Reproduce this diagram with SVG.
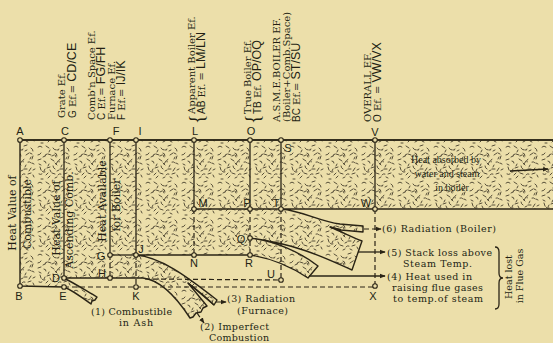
<svg xmlns="http://www.w3.org/2000/svg" width="553" height="343" viewBox="0 0 553 343">
<defs>
<pattern id="st" width="36" height="36" patternUnits="userSpaceOnUse">
<path d="M2,3q2,-2 4,0 M10,2l3,2 M17,4q1,2 3,2 M24,2l3,-1 M31,4q2,1 2,3 M5,9q-1,2 -3,2 M12,10l3,1 M19,9q2,0 2,3 M26,11l3,-2 M33,12l-1,3 M2,16l3,-1 M8,17q2,0 2,2 M15,15l3,2 M22,17l-2,3 M28,18q2,-1 3,1 M4,23l1,3 M11,24l3,-1 M17,22q0,2 2,3 M24,25l3,0 M31,24l-2,3 M3,30q2,1 3,0 M10,31l2,-2 M16,29l3,1 M22,31q1,-2 3,-1 M28,30l3,-1 M7,13l2,-1 M20,13l-1,-2 M13,20l-1,2 M27,6l-2,1 M8,27l1,-2 M34,20l-2,-1 M19,34l2,-1 M34,33l-1,-2 M5,35l2,0 M14,6l-1,2 M21,6q2,1 2,-1 M30,9l2,1 M9,12q0,-2 2,-2 M16,12l2,-1 M24,15q-2,1 -1,3 M3,20l2,1 M19,19l2,2 M26,21l-1,2 M33,26l2,-1 M6,27q1,2 3,1 M14,26l1,2 M21,27l2,-1 M26,33l2,1 M12,34l2,-2 M30,15l1,-2" stroke="#3b3423" stroke-width="0.85" fill="none" stroke-linecap="round"/>
</pattern>
<marker id="ah" viewBox="0 0 8 8" refX="7" refY="4" markerWidth="6" markerHeight="6" orient="auto" markerUnits="userSpaceOnUse">
<path d="M0,1 L8,4 L0,7 z" fill="#2a2416"/>
</marker>
</defs>
<style>
.ln{stroke:#2a2416;stroke-width:1.6;fill:none}
.th{stroke:#2a2416;stroke-width:1.3;fill:none}
.ds{stroke:#2a2416;stroke-width:1.2;fill:none;stroke-dasharray:5 3}
.pt{fill:#ecdfaa;stroke:#2a2416;stroke-width:1.1}
.sr{font-family:"DejaVu Serif",serif;fill:#231f14}
.tr{font-family:"Liberation Serif",serif;fill:#231f14}
.ss{font-family:"Liberation Sans",sans-serif;fill:#231f14}
.lt{font-family:"Liberation Sans",sans-serif;fill:#231f14;font-size:11px;text-anchor:middle}
</style>
<rect width="553" height="343" fill="#ecdfaa"/>

<g id="flow">
<path id="body" d="M20,140 L556,140 L556,209 L281,209 C303,211 318,221 340,224 L363,226 L363,232 L341,230 L330,227 C342,232 352,237 362,241 L352,270 C325,258 300,245 250,238 C275,241 300,252 318,266 L308,278 C290,266 270,258 250,255 L136,255 C160,257 185,275 217,300 L214,305 C205,296 196,289 188,283 L207,306 L203,308 L201,312 L196,313 L193,317 L190,318 C175,295 160,280 143,278 L64,278 C72,282 85,290 97,297 L95,300 L92,301 L91,304 C80,296 72,290 64,287 L20,286 Z" fill="url(#st)" stroke="#2a2416" stroke-width="1.4" stroke-linejoin="round"/>
</g>

<g id="connectors">
<line class="ln" x1="20" y1="140" x2="553" y2="140"/>
<line class="th" x1="194" y1="209" x2="281" y2="209"/>
<line class="th" x1="110" y1="255" x2="136" y2="255"/>
<line class="th" x1="64" y1="140" x2="64" y2="278"/>
<line class="th" x1="110" y1="140" x2="110" y2="255"/>
<line class="th" x1="136" y1="140" x2="136" y2="255"/>
<line class="th" x1="194" y1="140" x2="194" y2="209"/>
<line class="th" x1="250" y1="140" x2="250" y2="209"/>
<line class="th" x1="281" y1="140" x2="281" y2="209"/>
<line class="th" x1="375" y1="140" x2="375" y2="209"/>
<line class="ds" x1="110" y1="255" x2="110" y2="278"/>
<line class="ds" x1="136" y1="255" x2="136" y2="287"/>
<line class="ds" x1="194" y1="209" x2="194" y2="255"/>
<line class="ds" x1="250" y1="209" x2="250" y2="255"/>
<line class="ds" x1="281" y1="209" x2="281" y2="280"/>
<line class="ds" x1="375" y1="209" x2="375" y2="286"/>
<line class="ds" x1="145" y1="279" x2="281" y2="280"/>
<line class="ds" x1="64" y1="287" x2="375" y2="287"/>
<path class="th" d="M188,283 L214,305"/>
<path class="th" d="M330,227 L341,230"/>
<line class="ds" x1="364" y1="229" x2="381" y2="229" marker-end="url(#ah)"/>
<line class="th" x1="358" y1="252" x2="385" y2="252" marker-end="url(#ah)"/>
<line class="th" x1="309" y1="276" x2="385" y2="276" marker-end="url(#ah)"/>
<line class="ds" x1="216" y1="302" x2="226" y2="302" stroke-dasharray="3 2" marker-end="url(#ah)"/>
<line class="ds" x1="197" y1="313" x2="204" y2="323" stroke-dasharray="2 2" marker-end="url(#ah)"/>
<line class="th" x1="510" y1="171" x2="548" y2="169" marker-end="url(#ah)"/>
<path class="th" d="M495,247 q4,0 4,5 v21 q0,5 4,5 q-4,0 -4,5 v21 q0,5 -4,5"/>
</g>

<g id="points">
<circle class="pt" cx="20" cy="140" r="2.3"/><circle class="pt" cx="64" cy="140" r="2.3"/>
<circle class="pt" cx="110" cy="140" r="2.3"/><circle class="pt" cx="136" cy="140" r="2.3"/>
<circle class="pt" cx="194" cy="140" r="2.3"/><circle class="pt" cx="250" cy="140" r="2.3"/>
<circle class="pt" cx="281" cy="140" r="2.3"/><circle class="pt" cx="375" cy="140" r="2.3"/>
<circle class="pt" cx="194" cy="209" r="2.3"/><circle class="pt" cx="250" cy="209" r="2.3"/>
<circle class="pt" cx="281" cy="209" r="2.3"/><circle class="pt" cx="375" cy="209" r="2.3"/>
<circle class="pt" cx="110" cy="255" r="2.3"/><circle class="pt" cx="136" cy="255" r="2.3"/>
<circle class="pt" cx="194" cy="255" r="2.3"/><circle class="pt" cx="250" cy="255" r="2.3"/>
<circle class="pt" cx="250" cy="238" r="2.3"/>
<circle class="pt" cx="64" cy="278" r="2.3"/><circle class="pt" cx="110" cy="278" r="2.3"/>
<circle class="pt" cx="281" cy="280" r="2.3"/>
<circle class="pt" cx="20" cy="286" r="2.3"/><circle class="pt" cx="64" cy="287" r="2.3"/>
<circle class="pt" cx="136" cy="287" r="2.3"/><circle class="pt" cx="375" cy="286" r="2.3"/>
</g>

<g id="letters">
<text class="lt" x="20" y="135">A</text><text class="lt" x="65" y="135">C</text>
<text class="lt" x="116" y="135">F</text><text class="lt" x="140" y="135">I</text>
<text class="lt" x="195" y="135">L</text><text class="lt" x="251" y="135">O</text>
<text class="lt" x="288" y="152">S</text><text class="lt" x="375" y="136">V</text>
<text class="lt" x="203" y="207">M</text><text class="lt" x="247" y="207">P</text>
<text class="lt" x="276" y="207">T</text><text class="lt" x="366" y="207">W</text>
<text class="lt" x="241" y="243">Q</text><text class="lt" x="194" y="267">N</text>
<text class="lt" x="249" y="267">R</text><text class="lt" x="271" y="278">U</text>
<text class="lt" x="101" y="260">G</text><text class="lt" x="141" y="253">J</text>
<text class="lt" x="102" y="277">H</text><text class="lt" x="56" y="282">D</text>
<text class="lt" x="19" y="300">B</text><text class="lt" x="63" y="300">E</text>
<text class="lt" x="136" y="300">K</text><text class="lt" x="373" y="300">X</text>
</g>

<g id="top-labels" class="sr" font-size="10">
<text transform="translate(65,118) rotate(-90)">Grate Ef.</text>
<text transform="translate(76,118) rotate(-90)"><tspan class="ss" font-size="10">G</tspan> Ef.= <tspan class="ss" font-size="12.5">CD/CE</tspan></text>
<text transform="translate(95,120) rotate(-90)">Comb'n Space Ef.</text>
<text transform="translate(105,120) rotate(-90)"><tspan class="ss" font-size="10">C</tspan> Ef.= <tspan class="ss" font-size="12.5">FG/FH</tspan></text>
<text transform="translate(115,120) rotate(-90)">Furnace Ef.</text>
<text transform="translate(125,120) rotate(-90)"><tspan class="ss" font-size="10">F</tspan> Ef.= <tspan class="ss" font-size="12.5">IJ/IK</tspan></text>
<text transform="translate(203,124) rotate(-90)" font-size="20" class="tr">{</text>
<text transform="translate(195,114) rotate(-90)">Apparent Boiler Ef.</text>
<text transform="translate(205,114) rotate(-90)"><tspan class="ss" font-size="10">AB</tspan> Ef. = <tspan class="ss" font-size="12.5">LM/LN</tspan></text>
<text transform="translate(259,124) rotate(-90)" font-size="20" class="tr">{</text>
<text transform="translate(251,114) rotate(-90)">True Boiler Ef.</text>
<text transform="translate(261,114) rotate(-90)"><tspan class="ss" font-size="10">TB</tspan> Ef. <tspan class="ss" font-size="12.5">OP/OQ</tspan></text>
<text transform="translate(280,122) rotate(-90)">A.S.M.E.BOILER EF.</text>
<text transform="translate(290,122) rotate(-90)">(Boiler+Comb.Space)</text>
<text transform="translate(300,122) rotate(-90)"><tspan class="ss" font-size="10">BC</tspan> Ef.= <tspan class="ss" font-size="12.5">ST/SU</tspan></text>
<text transform="translate(371,122) rotate(-90)">OVERALL EF.</text>
<text transform="translate(381,122) rotate(-90)"><tspan class="ss" font-size="10">O</tspan> Ef. = <tspan class="ss" font-size="12.5">VW/VX</tspan></text>
</g>

<g id="side-labels" class="sr" font-size="11" text-anchor="middle">
<text transform="translate(16,213) rotate(-90)">Heat Value of</text>
<text transform="translate(31,214) rotate(-90)">Combustible</text>
<text transform="translate(60,218) rotate(-90)">Heat Value of</text>
<text transform="translate(73,220) rotate(-90)">Ascending Comb.</text>
<text transform="translate(106,201) rotate(-90)">Heat Available</text>
<text transform="translate(120,205) rotate(-90)">for Boiler</text>
</g>

<g id="heat-absorbed" class="tr" font-size="10" text-anchor="middle">
<text x="446" y="163">Heat absorbed by</text>
<text x="447" y="177">water and steam</text>
<text x="452" y="191">in boiler</text>
</g>

<g id="loss-labels" class="sr" font-size="9.5">
<text x="91" y="315" textLength="81">(1) Combustible</text>
<text x="119" y="326" textLength="34">in Ash</text>
<text x="200" y="330" textLength="69">(2) Imperfect</text>
<text x="209" y="341" textLength="60">Combustion</text>
<text x="227" y="302" textLength="68">(3) Radiation</text>
<text x="237" y="314" textLength="51">(Furnace)</text>
<text x="382" y="232" textLength="114">(6) Radiation (Boiler)</text>
<text x="387" y="256" textLength="105">(5) Stack loss above</text>
<text x="403" y="267" textLength="69">Steam Temp.</text>
<text x="387" y="280" textLength="85">(4) Heat used in</text>
<text x="392" y="291" textLength="91">raising flue gases</text>
<text x="393" y="302" textLength="90">to temp.of steam</text>
<text transform="translate(512,277) rotate(-90)" text-anchor="middle">Heat lost</text>
<text transform="translate(523,276) rotate(-90)" text-anchor="middle">in Flue Gas</text>
</g>
</svg>
